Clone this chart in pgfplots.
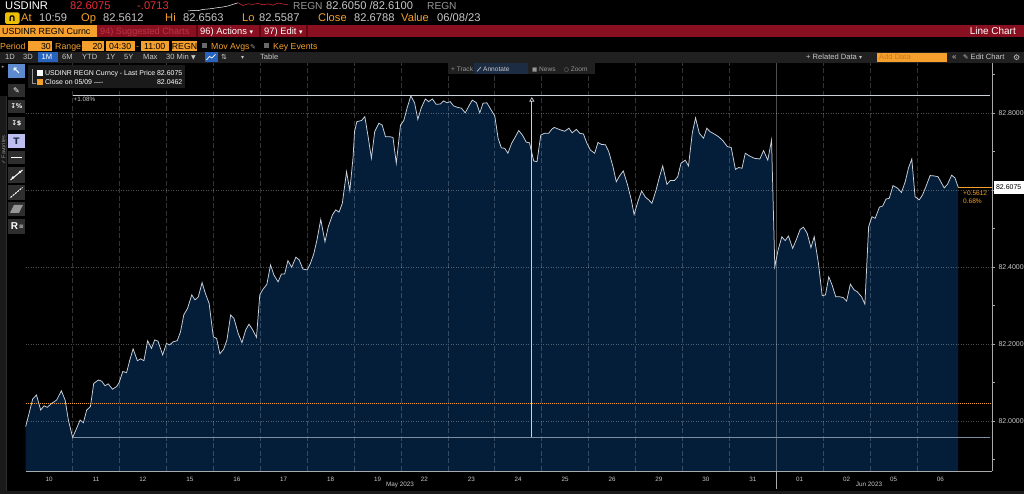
\documentclass[border=0pt]{standalone}
\usepackage{fontspec}
\setmainfont{Liberation Sans}
\newfontfamily\sym{DejaVu Sans}
\usepackage{pgfplots}
\pgfplotsset{compat=1.18}
\usepackage{pgfplotstable}
\usetikzlibrary{arrows.meta}

\definecolor{bbnavy}{RGB}{4,30,58}
\definecolor{bbline}{RGB}{205,210,218}
\definecolor{bbtick}{RGB}{200,200,200}
\definecolor{bborange}{RGB}{245,160,45}
\definecolor{bbred}{RGB}{232,45,55}
\definecolor{bbbar}{RGB}{137,16,32}
\definecolor{bbdimred}{RGB}{185,55,70}
\definecolor{bbsep}{RGB}{95,8,20}
\definecolor{bbgrey}{RGB}{150,150,150}
\definecolor{bbpanel}{RGB}{32,32,32}
\definecolor{bbbtn}{RGB}{46,46,46}
\definecolor{bblegend}{RGB}{26,26,26}
\definecolor{bbblue}{RGB}{40,100,190}
\definecolor{bblow}{RGB}{125,142,162}
\definecolor{bbaxis}{RGB}{170,170,170}
\definecolor{bbannot}{RGB}{28,44,66}
\definecolor{bblav}{RGB}{190,190,240}
\definecolor{bbyellow}{RGB}{235,190,0}
\definecolor{bbadd}{RGB}{200,120,30}

\newcommand\fs[1]{\fontsize{#1}{#1}\selectfont}

\pgfplotstableread{
d v
0.00 81.986
0.15 82.058
0.23 82.068
0.32 82.029
0.39 82.040
0.46 82.036
0.55 82.046
0.66 82.055
0.76 82.079
0.84 82.055
0.91 82.003
1.00 81.958
1.07 81.977
1.16 82.003
1.23 81.996
1.30 82.029
1.38 82.038
1.45 82.098
1.55 82.107
1.62 82.104
1.69 82.092
1.76 82.097
1.85 82.083
1.94 82.090
1.99 82.100
2.07 82.129
2.15 82.126
2.22 82.159
2.29 82.188
2.38 82.157
2.45 82.162
2.52 82.157
2.60 82.209
2.68 82.189
2.75 82.211
2.82 82.208
2.92 82.172
3.00 82.202
3.07 82.198
3.14 82.206
3.23 82.209
3.30 82.232
3.37 82.276
3.45 82.293
3.54 82.328
3.61 82.315
3.68 82.323
3.76 82.360
3.83 82.332
3.91 82.306
4.00 82.219
4.07 82.215
4.14 82.175
4.22 82.187
4.29 82.211
4.37 82.276
4.44 82.267
4.53 82.228
4.61 82.204
4.69 82.237
4.76 82.252
4.83 82.239
4.92 82.218
4.99 82.328
5.06 82.343
5.14 82.355
5.22 82.406
5.29 82.380
5.38 82.362
5.45 82.382
5.52 82.382
5.59 82.417
5.67 82.400
5.76 82.426
5.83 82.419
5.91 82.395
6.00 82.393
6.07 82.410
6.14 82.434
6.21 82.471
6.29 82.524
6.38 82.466
6.45 82.505
6.54 82.536
6.61 82.549
6.68 82.543
6.75 82.566
6.84 82.648
6.91 82.599
6.98 82.687
7.01 82.752
7.06 82.778
7.16 82.781
7.23 82.791
7.30 82.739
7.37 82.683
7.44 82.752
7.53 82.774
7.60 82.769
7.67 82.739
7.76 82.739
7.83 82.737
7.90 82.670
7.99 82.769
8.06 82.781
8.13 82.813
8.21 82.845
8.29 82.827
8.36 82.784
8.43 82.813
8.52 82.837
8.59 82.830
8.67 82.837
8.75 82.823
8.84 82.824
8.91 82.832
8.98 82.827
9.05 82.830
9.12 82.819
9.21 82.815
9.29 82.813
9.37 82.801
9.44 82.817
9.52 82.834
9.61 82.827
9.68 82.801
9.75 82.826
9.83 82.827
9.90 82.813
10.00 82.793
10.07 82.735
10.14 82.710
10.21 82.709
10.28 82.696
10.36 82.722
10.44 82.739
10.51 82.755
10.59 82.743
10.67 82.725
10.74 82.723
10.83 82.676
10.90 82.674
10.98 82.743
11.06 82.748
11.15 82.748
11.22 82.759
11.27 82.763
11.37 82.758
11.49 82.753
11.58 82.761
11.65 82.749
11.74 82.758
11.81 82.748
11.89 82.746
11.96 82.723
12.04 82.704
12.13 82.696
12.20 82.724
12.27 82.719
12.36 82.718
12.43 82.700
12.52 82.661
12.59 82.622
12.66 82.637
12.74 82.650
12.83 82.614
12.91 82.575
12.97 82.537
13.05 82.570
13.13 82.598
13.21 82.582
13.28 82.575
13.35 82.566
13.44 82.601
13.51 82.634
13.58 82.663
13.67 82.615
13.74 82.625
13.83 82.625
13.90 82.635
13.97 82.670
14.06 82.678
14.13 82.663
14.21 82.748
14.28 82.788
14.36 82.748
14.45 82.735
14.52 82.761
14.59 82.752
14.68 82.746
14.77 82.739
14.86 82.729
14.96 82.713
15.04 82.711
15.13 82.654
15.20 82.659
15.27 82.657
15.34 82.696
15.43 82.689
15.53 82.683
15.65 82.681
15.73 82.703
15.82 82.678
15.90 82.730
15.97 82.401
16.04 82.445
16.12 82.479
16.19 82.469
16.26 82.481
16.35 82.449
16.43 82.472
16.51 82.498
16.58 82.504
16.66 82.488
16.74 82.451
16.81 82.479
16.90 82.410
16.98 82.326
17.05 82.328
17.12 82.375
17.19 82.354
17.27 82.323
17.36 82.323
17.43 82.321
17.50 82.312
17.58 82.356
17.66 82.341
17.73 82.336
17.82 82.323
17.89 82.304
17.97 82.505
18.04 82.531
18.11 82.527
18.20 82.556
18.27 82.559
18.34 82.577
18.41 82.579
18.49 82.612
18.59 82.605
18.67 82.594
18.75 82.622
18.82 82.658
18.89 82.681
18.96 82.583
19.05 82.575
19.12 82.588
19.19 82.609
19.28 82.638
19.37 82.637
19.45 82.635
19.58 82.606
19.65 82.615
19.74 82.639
19.81 82.632
19.88 82.6075
}\usdinr

\pgfplotstableread{
x v
0 0.0
5 0.6
10 0.3
15 1.6
20 2.0
25 2.6
30 3.4
35 4.0
40 5.0
45 6.6
50 8.2
}\sparkw

\pgfplotstableread{
x v
50 8.2
55 5.5
60 7.2
65 6.6
70 7.6
75 6.2
80 7.1
85 5.8
90 7.9
95 7.0
100 6.2
}\sparkr

\tikzset{
  txt/.style={anchor=base west, inner sep=0pt},
  txe/.style={anchor=base east, inner sep=0pt},
  txc/.style={anchor=base, inner sep=0pt},
  px/.style={x=1bp, y=-1bp, shift={(0bp,494bp)}},
}

\begin{document}
\begin{tikzpicture}
\path[use as bounding box] (0bp,0bp) rectangle (1024bp,494bp);
\fill[black] (0bp,0bp) rectangle (1024bp,494bp);

% ---------------- main chart
\begin{axis}[
  at={(25.7bp,23bp)}, anchor=south west,
  scale only axis, width=966.3bp, height=408bp,
  xmin=0, xmax=20.6, ymin=81.8706, ymax=82.9304,
  clip=false,
  axis line style={draw=none},
  xtick={0.5,1.5,2.5,3.5,4.5,5.5,6.5,7.5,8.5,9.5,10.5,11.5,12.5,13.5,14.5,15.5,16.5,17.5,18.5,19.5},
  xticklabels={10,11,12,15,16,17,18,19,22,23,24,25,26,29,30,31,01,02,05,06},
  x tick style={draw=none},
  xticklabel style={font=\fs{6.3}, text=bbtick},
  ytick={82.0,82.2,82.4,82.8},
  extra y ticks={82.6}, extra y tick labels={},
  minor ytick={81.9,82.1,82.3,82.5,82.7,82.9},
  ytick pos=right, yticklabel pos=right,
  tick align=outside,
  major tick length=3bp, minor tick length=2.5bp,
  y tick style={draw=bbaxis, line width=0.6bp},
  extra y tick style={y tick style={draw=bbaxis, line width=0.6bp}},
  yticklabel style={font=\fs{7}, text=bbtick, anchor=west,
    /pgf/number format/.cd, fixed, fixed zerofill, precision=4, assume math mode=true},
]
\addplot[draw=none, fill=bbnavy] table[x=d,y=v]{\usdinr}
  -- (axis cs:19.88,81.8706) -- (axis cs:0,81.8706) -- cycle;
% grid
\pgfplotsinvokeforeach{82.0,82.2,82.4,82.6,82.8}{
  \draw[white, opacity=0.3, line width=0.5bp, dash pattern=on 1bp off 1.5bp]
    (axis cs:0,#1) -- (axis cs:20.6,#1);
}
\pgfplotsinvokeforeach{1,2,3,4,5,6,7,8,9,10,11,12,13,14,15,17,18,19}{
  \draw[white, opacity=0.2, line width=0.7bp, dash pattern=on 5bp off 2.5bp]
    (axis cs:#1,81.8706) -- (axis cs:#1,82.9304);
}
\draw[white, opacity=0.3, line width=0.6bp] (axis cs:16,82.9304) -- (axis cs:16,81.8706);
\draw[bbaxis, line width=0.6bp] (axis cs:16,81.8706) -- (axis cs:16,81.8238);
% close reference line
\draw[bborange, line width=0.8bp, dash pattern=on 0.8bp off 1.2bp]
  (axis cs:0,82.0462) -- (axis cs:20.6,82.0462);
% price line
\addplot[bbline, line width=0.75bp] table[x=d,y=v]{\usdinr};
% high / low measure lines
\draw[bbline, line width=0.7bp] (axis cs:1.0,82.847) -- (axis cs:20.55,82.847);
\draw[bblow, line width=1.3bp] (axis cs:1.0,81.958) -- (axis cs:20.55,81.958);
\draw[bbline, line width=0.7bp, -{Triangle[open, length=4.5bp, width=5bp]}]
  (axis cs:10.79,81.958) -- (axis cs:10.79,82.842);
% last price
\draw[bborange, line width=0.7bp] (axis cs:19.88,82.6075) -- (axis cs:20.6,82.6075);
% axis frame
\draw[bbaxis, line width=0.7bp] (axis cs:0,81.8706) -- (axis cs:20.6,81.8706);
\draw[bbaxis, line width=0.7bp] (axis cs:20.6,81.8706) -- (axis cs:20.6,82.9304);
\end{axis}

% ---------------- sparkline in the header
\begin{axis}[at={(188bp,483bp)}, anchor=south west, scale only axis,
  width=100bp, height=10bp, hide axis, clip=false,
  xmin=0, xmax=100, ymin=0, ymax=10]
\addplot[white, line width=0.5bp] table[x=x,y=v]{\sparkw};
\addplot[bbred, line width=0.5bp] table[x=x,y=v]{\sparkr};
\end{axis}

% ---------------- header (pixel coordinates, y downwards)
\begin{scope}[px]
% row 1
\node[txt, font=\fs{11.2}, text=white] at (5,10) {USDINR};
\node[txt, font=\fs{11.2}, text=bbred] at (70,10) {82.6075};
\node[txt, font=\fs{11.2}, text=bbred] at (137,10) {-.0713};
\node[txt, font=\fs{10.2}, text=bbgrey] at (293,10) {REGN};
\node[txt, font=\fs{11.2}, text=bbtick] at (326,10) {82.6050 /82.6100};
\node[txt, font=\fs{10.2}, text=bbgrey] at (427,10) {REGN};
% row 2
\fill[bbyellow, rounded corners=1.5bp] (5,12.5) rectangle (19.5,24);
\node[anchor=center, inner sep=0pt, font={\sym\fs{10}\bfseries}, text=black] at (12.2,18.5) {∩};
\node[txt, font=\fs{11.2}, text=bborange] at (21,22) {At};
\node[txt, font=\fs{11.2}, text=bbtick] at (39,22) {10:59};
\node[txt, font=\fs{11.2}, text=bborange] at (81,22) {Op};
\node[txt, font=\fs{11.2}, text=bbtick] at (103,22) {82.5612};
\node[txt, font=\fs{11.2}, text=bborange] at (165,22) {Hi};
\node[txt, font=\fs{11.2}, text=bbtick] at (183,22) {82.6563};
\node[txt, font=\fs{11.2}, text=bborange] at (242,22) {Lo};
\node[txt, font=\fs{11.2}, text=bbtick] at (259,22) {82.5587};
\node[txt, font=\fs{11.2}, text=bborange] at (318,22) {Close};
\node[txt, font=\fs{11.2}, text=bbtick] at (354,22) {82.6788};
\node[txt, font=\fs{11.2}, text=bborange] at (401,22) {Value};
\node[txt, font=\fs{11.2}, text=bbtick] at (437,22) {06/08/23};
% row 3 : red bar
\fill[bbbar] (0,25) rectangle (1024,37.5);
\fill[bborange] (0,25) rectangle (97,37.5);
\node[txt, font=\fs{8.9}, text=black] at (2,35) {USDINR REGN Curnc};
\node[txt, font=\fs{9.2}, text=bbdimred] at (100,35) {94) Suggested Charts};
\draw[bbsep, line width=1.2bp] (197,25) -- (197,37.5);
\node[txt, font=\fs{9.4}, text=white] at (200,35) {96) Actions {\sym\fs{7}▾}};
\draw[bbsep, line width=1.2bp] (260,25) -- (260,37.5);
\node[txt, font=\fs{9.4}, text=white] at (264,35) {97) Edit {\sym\fs{7}▾}};
\draw[bbsep, line width=1.2bp] (307,25) -- (307,37.5);
\node[txe, font=\fs{10}, text=white] at (1016,35) {Line Chart};
% row 4
\node[txt, font=\fs{8.8}, text=bborange] at (0,50) {Period};
\fill[bborange] (28,41.5) rectangle (52,51.5);
\node[txe, font=\fs{8.8}, text=black] at (51,50) {30};
\node[txt, font=\fs{8.8}, text=bborange] at (55,50) {Range};
\fill[bborange] (82,41.5) rectangle (103.5,51.5);
\node[txe, font=\fs{8.8}, text=black] at (102.5,50) {20};
\fill[bborange] (106,41.5) rectangle (134.5,51.5);
\node[txc, font=\fs{8.8}, text=black] at (120.2,50) {04:30};
\node[txt, font=\fs{8.8}, text=bborange] at (136,50) {-};
\fill[bborange] (141,41.5) rectangle (168.5,51.5);
\node[txc, font=\fs{8.8}, text=black] at (154.7,50) {11:00};
\fill[bborange] (172,41.5) rectangle (197,51.5);
\node[txc, font=\fs{8.8}, text=black] at (184.5,50) {REGN};
\fill[bbgrey!70!black] (202,43.5) rectangle (207,48.5);
\node[txt, font=\fs{8.8}, text=bborange] at (211,50) {Mov Avgs};
\node[txt, font={\sym\fs{7}}, text=bbgrey] at (250,50) {✎};
\fill[bbgrey!70!black] (264,43.5) rectangle (269,48.5);
\node[txt, font=\fs{8.8}, text=bborange] at (273,50) {Key Events};
% row 5
\fill[bbpanel] (0,51.8) rectangle (1024,62.8);
\fill[bbblue] (38,52.5) rectangle (57.5,62);
\node[txt, font=\fs{7.6}, text=bbtick] at (5,60) {1D};
\node[txt, font=\fs{7.6}, text=bbtick] at (23,60) {3D};
\node[txt, font=\fs{7.6}, text=white] at (41.5,60) {1M};
\node[txt, font=\fs{7.6}, text=bbtick] at (62,60) {6M};
\node[txt, font=\fs{7.6}, text=bbtick] at (82,60) {YTD};
\node[txt, font=\fs{7.6}, text=bbtick] at (106,60) {1Y};
\node[txt, font=\fs{7.6}, text=bbtick] at (124,60) {5Y};
\node[txt, font=\fs{7.6}, text=bbtick] at (143,60) {Max};
\node[txt, font=\fs{7.6}, text=bbtick] at (166,60) {30 Min {\sym\fs{6}▼}};
\fill[bbblue] (204.5,52.5) rectangle (217.5,62);
\draw[white, line width=0.7bp] (206.5,60) -- (209.5,56.5) -- (212,58) -- (215.5,54.5);
\node[txt, font={\sym\fs{7}}, text=bbtick] at (221,60) {⇅};
\node[txt, font={\sym\fs{6}}, text=bbtick] at (241,60) {▾};
\node[txt, font=\fs{7.6}, text=bbtick] at (260,60) {Table};
\node[txt, font=\fs{7.6}, text=bbtick] at (806,60) {+ Related Data {\sym\fs{6}▾}};
\fill[bborange] (877,53) rectangle (947,62);
\node[txt, font=\fs{7.6}, text=bbadd] at (879,60) {Add Data};
\node[txt, font=\fs{8}, text=bbtick] at (952,60) {«};
\node[txt, font=\fs{7.6}, text=bbtick] at (963,60) {{\sym\fs{6.5}✎} Edit Chart};
\node[txt, font={\sym\fs{8}}, text=bbtick] at (1013,60.5) {⚙};

% legend box
\fill[bblegend] (28,65) rectangle (185,88.5);
\draw[bbgrey, line width=0.4bp] (32,69) -- (32,83) -- (36,83);
\fill[white] (37,70.5) rectangle (42.5,76);
\fill[bborange] (37,79.5) rectangle (42.5,85);
\node[txt, font=\fs{7}, text=white] at (45,76) {USDINR REGN Curncy - Last Price};
\node[txe, font=\fs{7}, text=white] at (182.5,76) {82.6075};
\node[txt, font=\fs{7}, text=white] at (45,85) {Close on 05/09 ----};
\node[txe, font=\fs{7}, text=white] at (182.5,85) {82.0462};
% track / annotate bar
\fill[bbpanel] (448,63.5) rectangle (595,74.5);
\fill[bbannot] (474,63.5) rectangle (528,74.5);
\node[txt, font=\fs{6.6}, text=bbgrey] at (451,71.5) {+ Track};
\draw[bbtick, line width=0.6bp] (477,71.5) -- (481,67);
\node[txt, font=\fs{6.6}, text=bbtick] at (483,71.5) {Annotate};
\node[txt, font=\fs{6.6}, text=bbgrey] at (532,71.5) {{\sym\fs{5.5}■} News};
\node[txt, font=\fs{6.6}, text=bbgrey] at (564,71.5) {{\sym\fs{5.5}○} Zoom};
% left toolbar
\fill[bblegend] (0,96) rectangle (6,491);
\draw[bbbtn, line width=0.6bp] (6.5,96) -- (6.5,491);
\node[anchor=center, inner sep=0pt, rotate=90, font=\fs{5.5}, text=bbgrey] at (3.3,150) {{\sym ✓} Favorites};
\node[anchor=center, inner sep=0pt, font={\sym\fs{5}}, text=bbgrey] at (3,67) {▸};
\fill[bbblue!75!white] (8,64.5) rectangle (25,78.5);
\node[anchor=center, inner sep=0pt, font={\sym\fs{10}\bfseries}, text=white] at (16.5,71.5) {↖};
\fill[bbbtn] (8,84) rectangle (25,97.5);
\node[anchor=center, inner sep=0pt, font={\sym\fs{8}}, text=white] at (16.5,90.8) {✎};
\fill[bbbtn] (8,100) rectangle (25,113);
\node[anchor=center, inner sep=0pt, font={\sym\fs{6.5}\bfseries}, text=white] at (16.5,106.5) {↧\%};
\fill[bbbtn] (8,117) rectangle (25,130);
\node[anchor=center, inner sep=0pt, font={\sym\fs{6.5}\bfseries}, text=white] at (16.5,123.5) {↧\$};
\fill[bblav] (8,134.5) rectangle (25,148);
\node[anchor=center, inner sep=0pt, font={\sym\fs{9}\bfseries}, text=bbannot] at (16.5,141.3) {T};
\fill[bbbtn] (8,151.5) rectangle (25,164.5);
\draw[white, line width=1bp] (11,158) -- (22,158);
\fill[bbbtn] (8,167) rectangle (25,183);
\draw[white, line width=1bp] (10.5,180) -- (22.5,170);
\fill[white] (13,177.5) circle (1.3bp); \fill[white] (20,172) circle (1.3bp);
\fill[bbbtn] (8,185) rectangle (25,200);
\draw[white, line width=1bp, dash pattern=on 2bp off 1bp] (10.5,197.5) -- (22.5,187.5);
\fill[bbbtn] (8,202) rectangle (25,216);
\fill[bbgrey] (10,213) -- (14,205) -- (23,205) -- (19,213) -- cycle;
\fill[bbbtn] (8,219) rectangle (25,234);
\node[anchor=center, inner sep=0pt, font={\fs{10}\bfseries}, text=white] at (14.5,226.5) {R};
\node[anchor=center, inner sep=0pt, font={\sym\fs{6}}, text=white] at (21.5,226.5) {≡};
% annotations on the chart
\node[anchor=north west, inner sep=0pt, font=\fs{6.3}, text=bbtick] at (73.5,97.2) {+1.08\%};
\node[anchor=center, inner sep=0pt, font=\fs{6.4}, text=bbtick] at (400,484.5) {May 2023};
\node[anchor=center, inner sep=0pt, font=\fs{6.4}, text=bbtick] at (869,484.5) {Jun 2023};
\fill[white] (994,181) rectangle (1023.5,194);
\node[anchor=center, inner sep=0pt, font=\fs{7}, text=black] at (1008.7,187.5) {82.6075};
\node[txt, font=\fs{6.6}, text=bborange] at (963,196) {+0.5612};
\node[txt, font=\fs{6.6}, text=bborange] at (963,203.5) {0.68\%};
% bottom strip
\fill[bblegend] (0,491) rectangle (1024,494);
\end{scope}
\end{tikzpicture}
\end{document}
